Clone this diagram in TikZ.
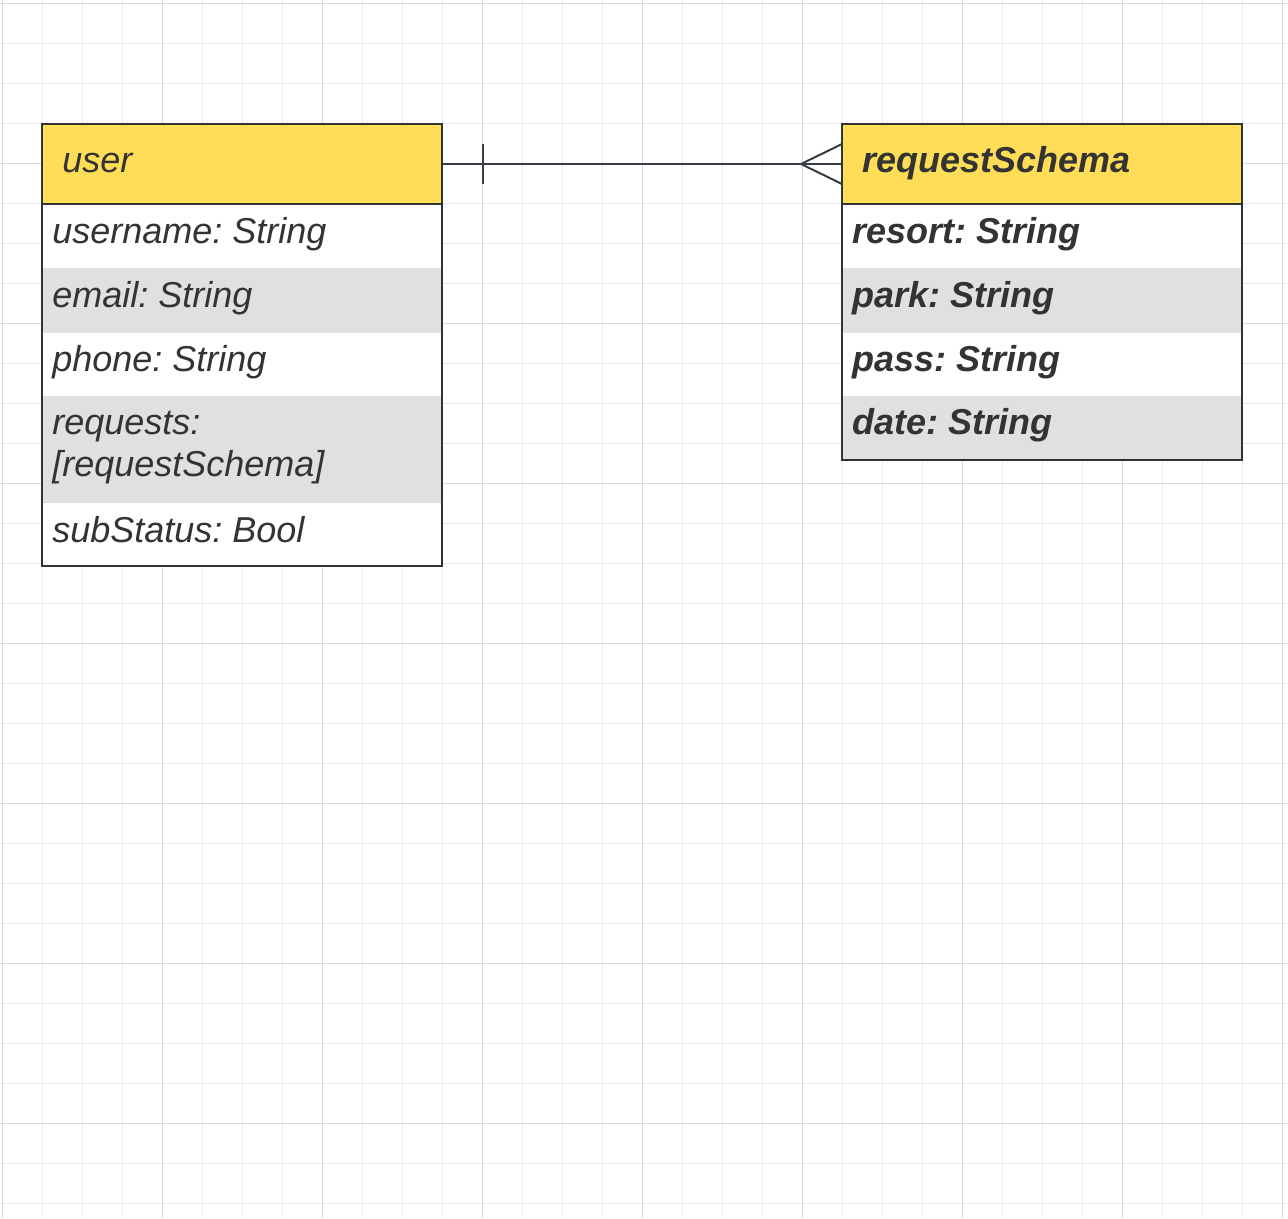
\documentclass[tikz,border=0pt]{standalone}
\usepackage{fontspec}
\setmainfont{Liberation Sans}
\usetikzlibrary{calc}
\definecolor{gridminor}{HTML}{EBEBEB}
\definecolor{gridmajor}{HTML}{DADADA}
\definecolor{hdr}{HTML}{FFDD57}
\definecolor{rowgray}{HTML}{E0E0E0}
\definecolor{ink}{HTML}{333333}
\definecolor{conn}{HTML}{383D45}
\tikzset{
  head/.style={draw=ink, line width=1.5pt, fill=hdr, minimum width=300pt, minimum height=60pt, inner sep=0pt, outer sep=0pt, anchor=north west},
  boxline/.style={draw=ink, line width=1.5pt},
  attr/.style={anchor=base west, inner sep=0pt, text=ink, font=\fontsize{27}{31.5}\selectfont\itshape, align=left},
  battr/.style={attr, font=\fontsize{27}{31.5}\selectfont\bfseries\itshape},
  connline/.style={draw=conn, line width=1.5pt}
}
\frenchspacing
\begin{document}
\frenchspacing
\begin{tikzpicture}[x=0.75pt,y=-0.75pt]
\useasboundingbox[fill=white] (0,0) rectangle (1288,1218);
% grid
\foreach \x in {2,42,...,1282} \draw[gridminor, line width=0.75pt] (\x,0) -- (\x,1218);
\foreach \y in {3,43,...,1203} \draw[gridminor, line width=0.75pt] (0,\y) -- (1288,\y);
\foreach \x in {2,162,...,1282} \draw[gridmajor, line width=0.75pt] (\x,0) -- (\x,1218);
\foreach \y in {3,163,...,1123} \draw[gridmajor, line width=0.75pt] (0,\y) -- (1288,\y);

% user entity
\fill[white] (42,204) rectangle (442,566);
\fill[rowgray] (42,268) rectangle (442,333);
\fill[rowgray] (42,396) rectangle (442,503);
\draw[boxline] (42,124) rectangle (442,566);
\node[head] (userhead) at (42,124) {};
\node[attr] (usertitle) at (62,172) {user};
\node[attr] (a1) at (52,243) {username: String};
\node[attr] (a2) at (52,307) {email: String};
\node[attr] (a3) at (52,371) {phone: String};
\node[attr] (a4) at (52,434) {requests:};
\node[attr] (a4b) at (52,476) {[requestSchema]};
\node[attr] (a5) at (52,542) {subStatus: Bool};

% requestSchema entity
\fill[white] (842,204) rectangle (1242,460);
\fill[rowgray] (842,268) rectangle (1242,333);
\fill[rowgray] (842,396) rectangle (1242,460);
\draw[boxline] (842,124) rectangle (1242,460);
\node[head] (reqhead) at (842,124) {};
\node[battr] (reqtitle) at (862,172) {requestSchema};
\node[battr] (b1) at (852,243) {resort: String};
\node[battr] (b2) at (852,307) {park: String};
\node[battr] (b3) at (852,371) {pass: String};
\node[battr] (b4) at (852,434) {date: String};

% relationship
\draw[connline] (userhead.east) -- (reqhead.west);
\draw[connline] ($(userhead.east)+(41,-20)$) -- ($(userhead.east)+(41,20)$);
\draw[connline] ($(reqhead.west)+(0,-20)$) -- ($(reqhead.west)+(-41,0)$) -- ($(reqhead.west)+(0,20)$);
\end{tikzpicture}
\end{document}
